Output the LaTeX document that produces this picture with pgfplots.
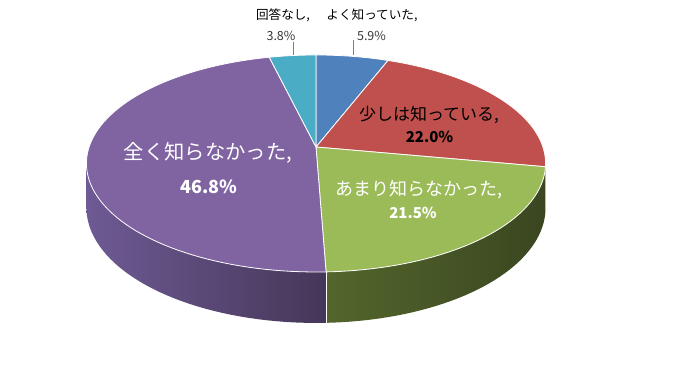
\documentclass[border=0pt]{standalone}
\usepackage{fontspec}
\setmainfont{Noto Sans CJK JP}
\usepackage{pgfplots}
\pgfplotsset{compat=1.18}
\definecolor{cblue}{HTML}{4F81BD}
\definecolor{cred}{HTML}{C0504D}
\definecolor{cgreen}{HTML}{9BBB59}
\definecolor{cpurple}{HTML}{8064A2}
\definecolor{ccyan}{HTML}{4BACC6}
\definecolor{cgreenL}{HTML}{53662C}
\definecolor{cgreenR}{HTML}{3A4620}
\definecolor{cpurpleL}{HTML}{6E5A94}
\definecolor{cpurpleR}{HTML}{453758}
\definecolor{credS}{HTML}{7A2D2B}
% shares (percent), clockwise from the top
\def\pA{5.9}  % よく知っていた
\def\pB{22.0} % 少しは知っている
\def\pC{21.5} % あまり知らなかった
\def\pD{46.8} % 全く知らなかった
\def\pE{3.8}  % 回答なし
\pgfmathsetmacro\aA{90}
\pgfmathsetmacro\aB{90-3.6*\pA}
\pgfmathsetmacro\aC{90-3.6*(\pA+\pB)}
\pgfmathsetmacro\aD{90-3.6*(\pA+\pB+\pC)}
\pgfmathsetmacro\aE{90-3.6*(\pA+\pB+\pC+\pD)}
\pgfmathsetmacro\aF{90-3.6*(\pA+\pB+\pC+\pD+\pE)}
\newcommand\slice[3]{%
  \addplot[fill=#3, draw=white, line width=0.8pt, domain=#1:#2, samples=90, variable=\t]
    ({px(\t)},{pyt(\t)}) -- (axis cs:316,227) -- cycle;}
\newcommand\wall[4]{%
  \addplot[draw=none, left color=#3, right color=#4, domain=0:81, samples=82, variable=\s]
    ({\s<40.5 ? px((#1)+\s/40*((#2)-(#1))) : px((#2)+(\s-41)/40*((#1)-(#2)))},
     {\s<40.5 ? pyt((#1)+\s/40*((#2)-(#1))) : pyb((#2)+(\s-41)/40*((#1)-(#2)))}) -- cycle;}
\begin{document}
\begin{tikzpicture}
\begin{axis}[width=676pt,height=374pt,scale only axis,
  xmin=0,xmax=676,ymin=0,ymax=374,hide axis,clip=false,
  declare function={
    kk(\t)=1+0.152*sin(\t);
    px(\t)=316+226.9*cos(\t)/kk(\t);
    pyt(\t)=227+106*sin(\t)/kk(\t);
    pyb(\t)=pyt(\t)-43.2/kk(\t);
  }]
\path (axis cs:0,0) rectangle (axis cs:676,374);
% side walls
\wall{-8.74}{\aC}{credS}{credS}
\wall{\aC}{\aD}{cgreenL}{cgreenR}
\wall{\aD}{-171.26}{cpurpleL}{cpurpleR}
\addplot[white, line width=0.8pt, samples at={0,1}] ({px(\aD)},{x<0.5 ? pyt(\aD) : pyb(\aD)});
% top faces
\slice{\aB}{\aA}{cblue}
\slice{\aC}{\aB}{cred}
\slice{\aD}{\aC}{cgreen}
\slice{\aE}{\aD}{cpurple}
\slice{\aF}{\aE}{ccyan}
% leader lines
\addplot[gray, line width=0.6pt] coordinates {(293,319) (293,332)};
\addplot[gray, line width=0.6pt] coordinates {(353,319) (353,334)};
% labels
\node[font=\fontsize{12.6}{14}\selectfont, text=black] at (axis cs:283,359) {回答なし,};
\node[font=\fontsize{12.5}{14}\selectfont, text=black!78] at (axis cs:281,338) {3.8\%};
\node[font=\fontsize{12.6}{14}\selectfont, text=black] at (axis cs:372,359) {よく知っていた,};
\node[font=\fontsize{12.5}{14}\selectfont, text=black!78] at (axis cs:371.5,338) {5.9\%};
\node[font=\fontsize{20.3}{23}\selectfont, text=white] at (axis cs:208,221) {全く知らなかった,};
\node[font=\fontsize{18}{21}\selectfont\bfseries, text=white] at (axis cs:209,187) {46.8\%};
\node[font=\fontsize{17}{20}\selectfont, text=black] at (axis cs:429,259) {少しは知っている,};
\node[font=\fontsize{15}{18}\selectfont\bfseries, text=black] at (axis cs:429.5,237) {22.0\%};
\node[font=\fontsize{18}{20}\selectfont, text=white] at (axis cs:419,184) {あまり知らなかった,};
\node[font=\fontsize{15}{18}\selectfont\bfseries, text=white] at (axis cs:413,161) {21.5\%};
\end{axis}
\end{tikzpicture}
\end{document}
